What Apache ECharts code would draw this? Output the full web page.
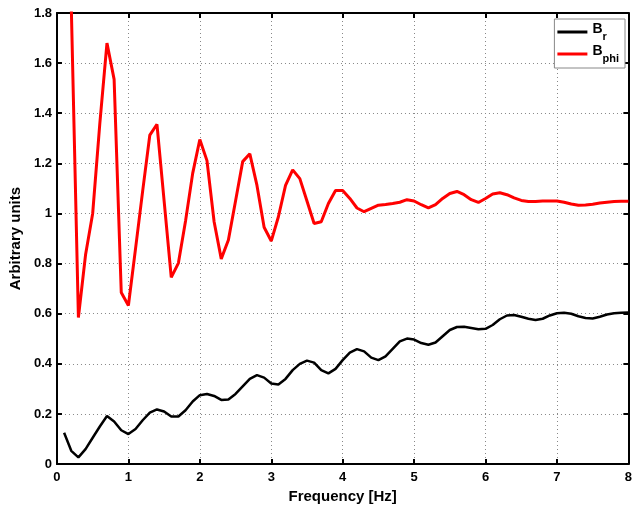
<!DOCTYPE html>
<html>
<head>
<meta charset="utf-8">
<script src="https://cdn.jsdelivr.net/npm/echarts@6/dist/echarts.min.js"></script>
<style>html,body{margin:0;padding:0;background:#fff}#c{width:635px;height:509px}</style>
</head>
<body>
<div id="c"></div>
<script>
const freq = [0.1,0.2,0.3,0.4,0.5,0.6,0.7,0.8,0.9,1.0,
  1.1,1.2,1.3,1.4,1.5,1.6,1.7,1.8,1.9,2.0,
  2.1,2.2,2.3,2.4,2.5,2.6,2.7,2.8,2.9,3.0,
  3.1,3.2,3.3,3.4,3.5,3.6,3.7,3.8,3.9,4.0,
  4.1,4.2,4.3,4.4,4.5,4.6,4.7,4.8,4.9,5.0,
  5.1,5.2,5.3,5.4,5.5,5.6,5.7,5.8,5.9,6.0,
  6.1,6.2,6.3,6.4,6.5,6.6,6.7,6.8,6.9,7.0,
  7.1,7.2,7.3,7.4,7.5,7.6,7.7,7.8,7.9,8.0];
const bPhi = [2.4,1.83,0.585,0.835,1.0,1.36,1.68,1.535,0.685,0.633,
  0.86,1.09,1.313,1.356,1.05,0.745,0.802,0.97,1.16,1.295,
  1.211,0.967,0.819,0.894,1.05,1.207,1.238,1.112,0.945,0.89,
  0.987,1.112,1.174,1.139,1.05,0.96,0.967,1.04,1.092,1.092,
  1.06,1.022,1.007,1.02,1.033,1.036,1.04,1.045,1.055,1.05,
  1.035,1.022,1.035,1.06,1.08,1.088,1.075,1.055,1.044,1.06,
  1.078,1.083,1.075,1.062,1.052,1.048,1.048,1.05,1.05,1.05,
  1.045,1.038,1.033,1.034,1.037,1.042,1.045,1.048,1.049,1.049];
const bR = [0.125,0.053,0.027,0.06,0.105,0.15,0.192,0.17,0.135,0.12,
  0.14,0.175,0.205,0.218,0.21,0.19,0.19,0.215,0.25,0.275,
  0.28,0.272,0.256,0.258,0.28,0.31,0.34,0.355,0.345,0.322,
  0.318,0.34,0.375,0.4,0.413,0.405,0.375,0.362,0.38,0.415,
  0.445,0.459,0.45,0.425,0.415,0.43,0.46,0.49,0.501,0.497,
  0.483,0.476,0.485,0.51,0.535,0.547,0.548,0.543,0.538,0.54,
  0.555,0.578,0.593,0.595,0.588,0.58,0.575,0.58,0.593,0.602,
  0.604,0.6,0.59,0.583,0.581,0.588,0.597,0.602,0.604,0.605];
const xTitle = 'Frequency [Hz]';
const yTitle = 'Arbitrary units';

const FONT = 'Liberation Sans, Arial, sans-serif';
const chart = echarts.init(document.getElementById('c'));
const pairs = arr => freq.map((f, i) => [f, arr[i]]);
const boxAxis = {
  axisLine: {show: true, onZero: false, lineStyle: {color: '#000', width: 2}},
  axisTick: {show: true, inside: true, length: 5, lineStyle: {color: '#000', width: 2}},
  axisLabel: {show: false},
  splitLine: {show: false}
};
chart.setOption({
  animation: false,
  backgroundColor: '#fff',
  grid: {left: 54, right: 4, top: 13, bottom: 41.5, containLabel: false},
  legend: {
    orient: 'vertical', right: 10, top: 19,
    backgroundColor: '#fff', borderColor: '#888', borderWidth: 1,
    padding: [3, 6, 4, 3], itemGap: 2, itemWidth: 30, itemHeight: 3,
    icon: 'rect',
    data: ['Br', 'Bphi'],
    formatter: n => n === 'Br' ? '{b|B}{s|r}' : '{b|B}{s|phi}',
    textStyle: {
      fontFamily: FONT, color: '#000',
      rich: {
        b: {fontSize: 14, fontWeight: 'bold', fontFamily: FONT, color: '#000', lineHeight: 20, verticalAlign: 'top'},
        s: {fontSize: 11, fontWeight: 'bold', fontFamily: FONT, color: '#000', lineHeight: 20, verticalAlign: 'bottom', padding: [7, 0, 0, 0]}
      }
    }
  },
  xAxis: [{
    type: 'value', min: 0, max: 8, interval: 1, position: 'bottom',
    name: xTitle, nameLocation: 'middle', nameGap: 22,
    nameTextStyle: {fontFamily: FONT, fontSize: 15, fontWeight: 'bold', color: '#000'},
    axisLine: {show: true, onZero: false, lineStyle: {color: '#000', width: 2}},
    axisTick: {show: true, inside: true, length: 5, lineStyle: {color: '#000', width: 2}},
    axisLabel: {fontFamily: FONT, fontSize: 13, fontWeight: 'bold', color: '#000', margin: 7},
    splitLine: {show: true, lineStyle: {type: [1, 3], color: '#888', width: 1}}
  }, Object.assign({type: 'value', min: 0, max: 8, interval: 1, position: 'top'}, boxAxis)],
  yAxis: [{
    type: 'value', min: 0, max: 1.8, interval: 0.2, position: 'left',
    name: yTitle, nameLocation: 'middle', nameGap: 27,
    nameTextStyle: {fontFamily: FONT, fontSize: 15, fontWeight: 'bold', color: '#000'},
    axisLine: {show: true, onZero: false, lineStyle: {color: '#000', width: 2}},
    axisTick: {show: true, inside: true, length: 5, lineStyle: {color: '#000', width: 2}},
    axisLabel: {fontFamily: FONT, fontSize: 13, fontWeight: 'bold', color: '#000', margin: 5,
      formatter: v => String(Math.round(v * 10) / 10)},
    splitLine: {show: true, lineStyle: {type: [1, 3], color: '#888', width: 1}}
  }, Object.assign({type: 'value', min: 0, max: 1.8, interval: 0.2, position: 'right'}, boxAxis)],
  series: [
    {name: 'Br', type: 'line', data: pairs(bR), showSymbol: false, symbol: 'none',
      lineStyle: {color: '#000', width: 2.5}, itemStyle: {color: '#000'}, clip: true},
    {name: 'Bphi', type: 'line', data: pairs(bPhi), showSymbol: false, symbol: 'none',
      lineStyle: {color: '#ff0000', width: 3}, itemStyle: {color: '#ff0000'}, clip: true}
  ]
});
</script>
</body>
</html>
